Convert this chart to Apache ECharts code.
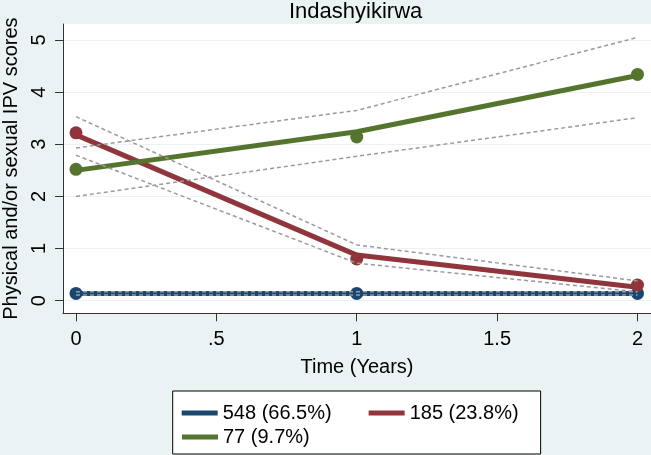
<!DOCTYPE html>
<html><head><meta charset="utf-8">
<script src="https://cdn.jsdelivr.net/npm/echarts@6/dist/echarts.min.js"></script>
<style>html,body{margin:0;padding:0;background:#eaf2f3;} #c{width:651px;height:455px;}</style>
</head><body><div id="c"></div>
<script>
// ---- data ----
const times = [0, 1, 2];
const xTicks = [0, 0.5, 1, 1.5, 2];
const xTickLabels = ['0', '.5', '1', '1.5', '2'];
const yTicks = [0, 1, 2, 3, 4, 5];
const yTickLabels = ['0', '1', '2', '3', '4', '5'];
const groupNames = ['548 (66.5%)', '185 (23.8%)', '77 (9.7%)'];
const blueFit = [0.14, 0.14, 0.14];
const blueObs = [0.14, 0.14, 0.14];
const blueUpper = [0.17, 0.17, 0.17];
const blueLower = [0.11, 0.11, 0.11];
const redFit = [3.18, 0.875, 0.26];
const redObs = [3.22, 0.80, 0.30];
const redUpper = [3.53, 1.07, 0.38];
const redLower = [2.79, 0.72, 0.17];
const greenFit = [2.50, 3.24, 4.32];
const greenObs = [2.52, 3.14, 4.34];
const greenUpper = [2.93, 3.65, 5.05];
const greenLower = [2.00, 2.77, 3.51];

// ---- styling ----
const FONT = 'Liberation Sans, Arial, sans-serif';
const colors = ['#1a476f', '#90353b', '#55752f'];
const ciColor = '#9a9a9a';
const pair = arr => times.map((t, i) => [t, arr[i]]);

const groups = [
  {fit: blueFit, obs: blueObs, up: blueUpper, lo: blueLower},
  {fit: redFit, obs: redObs, up: redUpper, lo: redLower},
  {fit: greenFit, obs: greenObs, up: greenUpper, lo: greenLower}
];

const series = [];
groups.forEach((g, i) => {
  series.push({name: groupNames[i] + ' obs', type: 'scatter', data: pair(g.obs), symbolSize: 13,
    itemStyle: {color: colors[i], opacity: 1}, z: 2, silent: true});
});
groups.forEach((g, i) => {
  series.push({name: groupNames[i], type: 'line', data: pair(g.fit), symbol: 'none',
    lineStyle: {color: colors[i], width: 5}, itemStyle: {color: colors[i]}, z: 3, silent: true});
});
groups.forEach((g, i) => {
  [g.up, g.lo].forEach(arr => {
    series.push({name: 'ci' + i, type: 'line', data: pair(arr), symbol: 'none',
      lineStyle: {color: ciColor, width: 1.5, type: [4, 3]}, z: 4, silent: true});
  });
});

const fmt = (ticks, labels) => v => {
  const k = ticks.findIndex(t => Math.abs(t - v) < 1e-6);
  return k >= 0 ? labels[k] : '';
};

const chart = echarts.init(document.getElementById('c'), null, {renderer: 'canvas'});
chart.setOption({
  animation: false,
  backgroundColor: '#eaf2f3',
  textStyle: {fontFamily: FONT},
  title: {text: 'Indashyikirwa', left: 289, top: 1, padding: 0,
    textStyle: {fontFamily: FONT, fontSize: 22, fontWeight: 'normal', color: '#000'}},
  grid: {left: 63, right: 0, top: 24, bottom: 141.7, show: true, backgroundColor: '#fff', borderWidth: 0,
    containLabel: false, outerBoundsMode: 'none'},
  xAxis: {
    type: 'value', min: -0.0463, max: 2.0481,
    name: 'Time (Years)', nameLocation: 'middle', nameGap: 44,
    nameTextStyle: {fontFamily: FONT, fontSize: 20, color: '#000'},
    axisLine: {show: true, onZero: false, lineStyle: {color: '#333', width: 1}},
    axisTick: {show: true, length: 8, customValues: xTicks, lineStyle: {color: '#333'}},
    axisLabel: {customValues: xTicks, margin: 16, fontFamily: FONT, fontSize: 20, color: '#000',
      formatter: fmt(xTicks, xTickLabels)},
    splitLine: {show: false}
  },
  yAxis: {
    type: 'value', min: -0.2417, max: 5.307,
    name: 'Physical and/or sexual IPV scores', nameLocation: 'middle', nameGap: 41,
    nameTextStyle: {fontFamily: FONT, fontSize: 20, color: '#000'},
    axisLine: {show: true, onZero: false, lineStyle: {color: '#333', width: 1}},
    axisTick: {show: true, length: 8, customValues: yTicks, lineStyle: {color: '#333'}},
    axisLabel: {show: true, rotate: 90, margin: 14, fontFamily: FONT, fontSize: 20, color: '#000',
      showMinLabel: false, showMaxLabel: false,
      formatter: fmt(yTicks, yTickLabels)},
    splitLine: {show: true, lineStyle: {color: '#eaf2f3', width: 1}}
  },
  legend: [
    {data: [groupNames[0], groupNames[1]], left: 172.7, top: 391, padding: [12, 22, 31, 9],
      itemGap: 37, itemWidth: 36, itemHeight: 5, icon: 'rect', selectedMode: false,
      borderColor: '#000', borderWidth: 1, backgroundColor: '#fff',
      textStyle: {fontFamily: FONT, fontSize: 20, color: '#000'}},
    {data: [groupNames[2]], left: 182, top: 427, padding: 0, z: 10,
      itemWidth: 36, itemHeight: 5, icon: 'rect', selectedMode: false,
      textStyle: {fontFamily: FONT, fontSize: 20, color: '#000'}}
  ],
  series: series
});
</script></body></html>
